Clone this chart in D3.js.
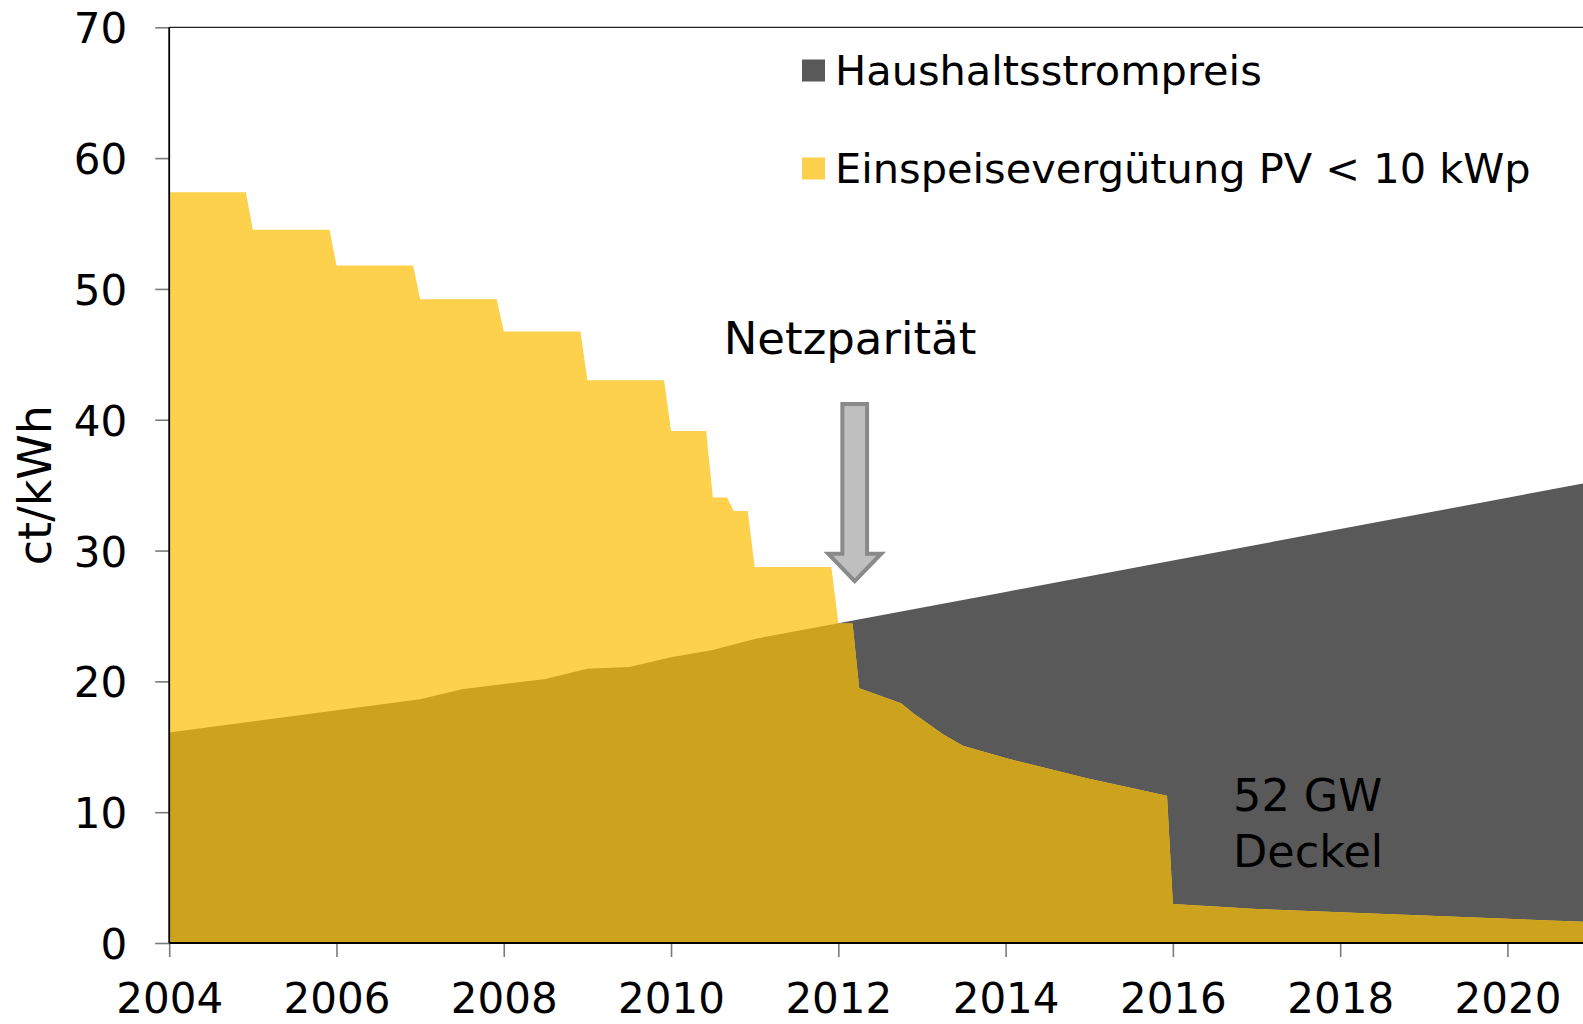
<!DOCTYPE html>
<html>
<head>
<meta charset="utf-8">
<script src="https://cdn.jsdelivr.net/npm/d3@7"></script>
<style>
  html, body { margin: 0; padding: 0; background: #fff; overflow: hidden; }
  svg { display: block; font-family: "DejaVu Sans", Verdana, sans-serif; }
</style>
</head>
<body>
<svg id="chart" width="1583" height="1024"></svg>
<script>
// ---- data ----
// Einspeisevergütung PV < 10 kWp (ct/kWh), [year, value]
const feedInYears  = [2004.0, 2004.917, 2005.0, 2005.917, 2006.0, 2006.917, 2007.0, 2007.917, 2008.0, 2008.917,
                      2009.0, 2009.917, 2010.0, 2010.42, 2010.5, 2010.67, 2010.75, 2010.917, 2011.0, 2011.917,
                      2012.0, 2012.17, 2012.25, 2012.75, 2012.9, 2013.02, 2013.25, 2013.49, 2014.01, 2014.49, 2014.97,
                      2015.93, 2016.0, 2017.0, 2018.0, 2019.0, 2020.0, 2021.0];
const feedInValues = [57.40, 57.40, 54.53, 54.53, 51.80, 51.80, 49.21, 49.21, 46.75, 46.75,
                      43.01, 43.01, 39.14, 39.14, 34.05, 34.05, 33.03, 33.03, 28.74, 28.74,
                      24.43, 24.43, 19.47, 18.32, 17.55, 17.00, 15.95, 15.08, 14.12, 13.36, 12.59,
                      11.26, 2.98, 2.60, 2.35, 2.10, 1.85, 1.60];
// Haushaltsstrompreis (ct/kWh)
const priceYears  = [2004.0, 2007.0, 2007.5, 2008.5, 2009.0, 2009.5, 2010.0, 2010.5, 2011.0, 2012.0,
                     2014.0, 2016.0, 2018.0, 2020.0, 2021.0];
const priceValues = [16.10, 18.63, 19.40, 20.18, 20.97, 21.10, 21.84, 22.40, 23.24, 24.44,
                     26.84, 29.24, 31.64, 34.04, 35.24];
const xTicks = [2004, 2006, 2008, 2010, 2012, 2014, 2016, 2018, 2020];
const yTicks = [0, 10, 20, 30, 40, 50, 60, 70];
const legendLabels = ["Haushaltsstrompreis", "Einspeisevergütung PV < 10 kWp"];
const yAxisTitle = "ct/kWh";
const annotationText = "Netzparität";
const capText = ["52 GW", "Deckel"];

// ---- styles ----
const colPrice = "#595959";
const colFeed = "#FDD14B";
const colOverlap = "#CDA21C";

const svg = d3.select("#chart");
const x = d3.scaleLinear().domain([2004, 2021]).range([169.2, 169.2 + 17 * 83.64]);
const y = d3.scaleLinear().domain([0, 70]).range([943, 27.3]);

const feed = feedInYears.map((d, i) => ({ t: d, v: feedInValues[i] }));
const price = priceYears.map((d, i) => ({ t: d, v: priceValues[i] }));

const area = d3.area().x(d => x(d.t)).y0(y(0)).y1(d => y(d.v));

const defs = svg.append("defs");
defs.append("clipPath").attr("id", "priceClip")
  .append("path").attr("d", area(price));

svg.append("path").attr("d", area(price)).attr("fill", colPrice);
svg.append("path").attr("d", area(feed)).attr("fill", colFeed);
svg.append("path").attr("d", area(feed)).attr("fill", colOverlap).attr("clip-path", "url(#priceClip)");

// ---- axes ----
const yAxis = svg.append("g").attr("transform", `translate(${x(2004)},0)`)
  .call(d3.axisLeft(y).tickValues(yTicks).tickSize(14).tickPadding(28).tickFormat(d3.format("d")));
yAxis.select(".domain").remove();
yAxis.selectAll(".tick line").attr("stroke", "#7a7a7a").attr("stroke-width", 1.6);
yAxis.selectAll(".tick text").attr("font-size", 42).attr("font-family", "DejaVu Sans")
  .attr("fill", "#000").attr("dy", "0.37em");

const xAxis = svg.append("g").attr("transform", `translate(0,${y(0)})`)
  .call(d3.axisBottom(x).tickValues(xTicks).tickSize(14).tickPadding(26.5).tickFormat(d3.format("d")));
xAxis.select(".domain").remove();
xAxis.selectAll(".tick line").attr("stroke", "#7a7a7a").attr("stroke-width", 1.6);
xAxis.selectAll(".tick text").attr("font-size", 42).attr("font-family", "DejaVu Sans").attr("fill", "#000");

// axis lines and top border
svg.append("line").attr("x1", x(2004)).attr("x2", 1583).attr("y1", y(0)).attr("y2", y(0))
  .attr("stroke", "#000").attr("stroke-width", 1.8);
svg.append("line").attr("x1", x(2004)).attr("x2", x(2004)).attr("y1", y(70)).attr("y2", y(0))
  .attr("stroke", "#000").attr("stroke-width", 1.8);
svg.append("line").attr("x1", x(2004)).attr("x2", 1583).attr("y1", y(70)).attr("y2", y(70))
  .attr("stroke", "#222").attr("stroke-width", 1.2);

// y axis title
svg.append("text").attr("transform", `translate(51,${y(35)}) rotate(-90)`)
  .attr("text-anchor", "middle").attr("font-size", 46).attr("fill", "#000").text(yAxisTitle);

// ---- legend ----
const legendColors = [colPrice, colFeed];
const lg = svg.append("g");
legendLabels.forEach((lab, i) => {
  const ly = 70.5 + i * 98;
  lg.append("rect").attr("x", 802).attr("y", ly - 11).attr("width", 23).attr("height", 22).attr("fill", legendColors[i]);
  lg.append("text").attr("x", 835).attr("y", ly + 14.5).attr("font-size", 41.5).attr("fill", "#000").text(lab);
});

// ---- annotation: Netzparität arrow ----
const ax = x(2012.196);
const shaftW = 24.7, headW = 53;
const aTop = y(41.2), aBase = y(29.76), aTip = y(27.67);
const arrowPts = [
  [ax - shaftW / 2, aTop], [ax + shaftW / 2, aTop], [ax + shaftW / 2, aBase], [ax + headW / 2, aBase],
  [ax, aTip], [ax - headW / 2, aBase], [ax - shaftW / 2, aBase]
];
svg.append("path").attr("d", d3.line()(arrowPts) + "Z")
  .attr("fill", "#BFBFBF").attr("stroke", "#8A8A8A").attr("stroke-width", 4).attr("stroke-linejoin", "miter");
svg.append("text").attr("x", 850).attr("y", y(45)).attr("text-anchor", "middle")
  .attr("font-size", 45).attr("fill", "#000").text(annotationText);

// ---- annotation: 52 GW Deckel ----
capText.forEach((t, i) => {
  svg.append("text").attr("x", x(2016.72)).attr("y", y(10.11) + i * 56)
    .attr("font-size", 44.5).attr("fill", "#000").text(t);
});
</script>
</body>
</html>
